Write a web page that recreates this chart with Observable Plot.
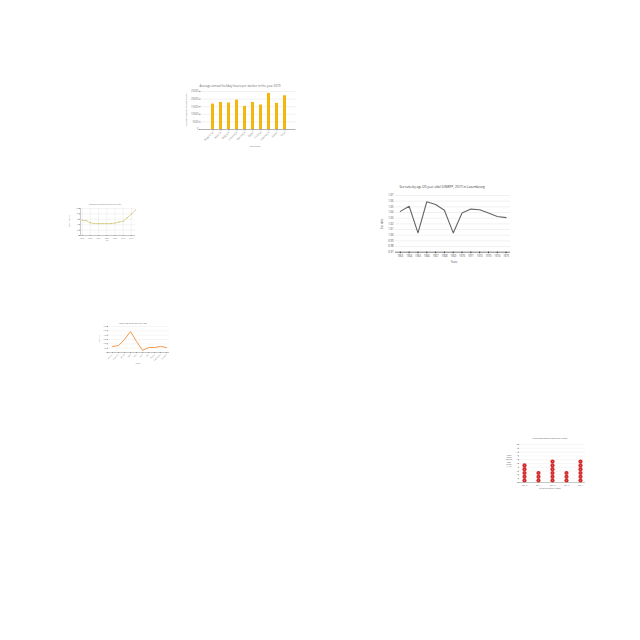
<!DOCTYPE html>
<html><head><meta charset="utf-8">
<script src="https://cdn.jsdelivr.net/npm/d3@7"></script>
<script src="https://cdn.jsdelivr.net/npm/@observablehq/plot@0.6"></script>
<style>
body{margin:0;background:#fff;}
#root{position:relative;width:640px;height:640px;overflow:hidden;font-family:"Open Sans",sans-serif;background:#fff;}
.chart{position:absolute;}
.lbl{position:absolute;white-space:nowrap;line-height:1;}
</style></head><body><div id="root"></div>
<script>
// ---- Chart A: bar chart ----
const countries = ["Argentina","Austria","Belgium","Colombia","Denmark","Egypt","Finland","Indonesia","Japan","Peru"];
const holidayHours = [16700, 17800, 17400, 19300, 15200, 17800, 16100, 23700, 17200, 22200];
const holidayTicks = [0, 5000, 10000, 15000, 20000, 25000];
// ---- Chart B: small dashed line ----
const bX = [1,2,3,4,5,6,7,8,9,10,11,12,13,14];
const bY = [57,55,47,44,44,44,44,44,46,50,53,66,80,94];
const bTicks = [1,3,5,7,9,11,13];
const bTickLabels = ["2000","2002","2004","2006","2008","2010","2012"];
// ---- Chart C: orange line ----
const months = ["January","February","March","April","May","June","July","August","September","October"];
const cValues = [140, 160, 300, 485, 255, 50, 115, 115, 140, 115];
const cTicks = [0,100,200,300,400,500,600];
// ---- Chart D: sex ratio ----
const years = [1963,1964,1965,1966,1967,1968,1969,1970,1971,1972,1973,1974,1975];
const sexRatio = [1.042,1.051,1.004,1.059,1.054,1.044,1.004,1.039,1.046,1.045,1.039,1.033,1.031];
const dTicks = [0.97,0.98,0.99,1.00,1.01,1.02,1.03,1.04,1.05,1.06,1.07];
// ---- Chart E: dot columns ----
const surveyDays = ["Sep 10","Sep 11","Sep 12","Sep 13","Sep 14"];
const surveyCounts = [5, 3, 6, 3, 6];
const eTicks = [0,1,2,3,4,5,6,7,8,9,10];

const root = document.getElementById("root");
function place(svg, left, top){ svg.classList.add("chart"); svg.style.left = left+"px"; svg.style.top = top+"px"; root.appendChild(svg); }
function label(text, x, y, size, color, rotate, align){
  const d = document.createElement("div");
  d.className = "lbl"; d.textContent = text;
  d.style.fontSize = size+"px"; d.style.color = color || "#555";
  d.style.left = x+"px"; d.style.top = y+"px";
  d.style.transform = "translate(-50%,-50%)" + (rotate ? " rotate("+rotate+"deg)" : "");
  if (align) d.style.textAlign = align;
  root.appendChild(d); return d;
}

// Chart A
const aData = countries.map((c,i)=>({c, v: holidayHours[i]}));
place(Plot.plot({
  width:135, height:75, marginLeft:30.5, marginRight:9.5, marginTop:11, marginBottom:26,
  style:{fontSize:"2.6px", fontFamily:"Open Sans", color:"#777", background:"transparent"},
  x:{domain:countries, padding:0.68, label:null},
  y:{domain:[0,25000], label:null},
  marks:[
    Plot.gridY(holidayTicks,{stroke:"#ddd", strokeOpacity:1, strokeWidth:0.4}),
    Plot.barY(aData,{x:"c", y:"v", fill:"#f5b50a"}),
    Plot.axisY(holidayTicks,{tickSize:1.5, tickPadding:1, label:null, stroke:"#999", tickFormat:d=>String(d)}),
    Plot.axisX({tickRotate:-45, tickSize:1.5, tickPadding:1, label:null, stroke:"#999"}),
    Plot.ruleY([0],{stroke:"#888", strokeWidth:0.6}),
    Plot.ruleX([0],{frameAnchor:"left", stroke:"#888", strokeWidth:0.6})
  ]
}), 170, 80);
label("Average annual holiday hours per worker in the year 2079", 240, 85.5, 3, "#666");
label("Average annual holiday hours", 186, 110, 2.4, "#777", -90);
label("Countries", 255, 146, 2.4, "#777");

// Chart B
const bData = bX.map((x,i)=>({x, y: bY[i]}));
place(Plot.plot({
  width:85, height:45, marginLeft:20, marginRight:10, marginTop:8, marginBottom:10,
  style:{fontSize:"1.8px", fontFamily:"Open Sans", color:"#888", background:"transparent"},
  x:{domain:[0.6,14], label:null},
  y:{domain:[0,100], label:null},
  marks:[
    Plot.gridX(bTicks,{stroke:"#e3e3e3", strokeOpacity:1, strokeWidth:0.4}),
    Plot.gridY([0,20,40,60,80,100],{stroke:"#e3e3e3", strokeOpacity:1, strokeWidth:0.4}),
    Plot.line(bData,{x:"x", y:"y", stroke:"#c9bd52", strokeWidth:0.7, strokeDasharray:"1.4,1"}),
    Plot.dot(bData,{x:"x", y:"y", r:0.45, fill:"#b5a63a"}),
    Plot.axisY([0,20,40,60,80,100],{tickSize:1, tickPadding:0.8, label:null, stroke:"#999"}),
    Plot.axisX(bTicks,{tickSize:1, tickPadding:0.8, label:null, stroke:"#999", tickFormat:(d)=>bTickLabels[bTicks.indexOf(d)]}),
    Plot.ruleY([0],{stroke:"#999", strokeWidth:0.5}),
    Plot.ruleX([0.6],{stroke:"#999", strokeWidth:0.5})
  ]
}), 60, 200);
label("Something measured over the years", 105, 205, 1.9, "#777");
label("Value measured", 70, 221, 1.6, "#888", -90);
label("Year", 107, 240.5, 1.6, "#888");

// Chart C
const cData = months.map((m,i)=>({m, v: cValues[i]}));
place(Plot.plot({
  width:90, height:55, marginLeft:18, marginRight:11, marginTop:6, marginBottom:23,
  style:{fontSize:"1.8px", fontFamily:"Open Sans", color:"#888", background:"transparent"},
  x:{type:"point", domain:months, padding:0.5, label:null},
  y:{domain:[0,600], label:null},
  marks:[
    Plot.gridY(cTicks,{stroke:"#e6e6e6", strokeOpacity:1, strokeWidth:0.4}),
    Plot.line(cData,{x:"m", y:"v", stroke:"#f39a4c", strokeWidth:1}),
    Plot.axisY(cTicks,{tickSize:1, tickPadding:0.8, label:null, stroke:"#999"}),
    Plot.axisX({tickRotate:-45, tickSize:1, tickPadding:0.8, label:null, stroke:"#999"}),
    Plot.ruleY([0],{stroke:"#999", strokeWidth:0.5}),
    Plot.ruleX([0],{frameAnchor:"left", stroke:"#999", strokeWidth:0.5})
  ]
}), 90, 320);
label("Labor rate during the year 1985", 133, 324, 1.9, "#666");
label("Labor rate", 100, 339, 1.7, "#888", -90);
label("Month", 138, 364, 1.7, "#888");

// Chart D
const dData = years.map((y,i)=>({y, r: sexRatio[i]}));
place(Plot.plot({
  width:150, height:75, marginLeft:25, marginRight:10, marginTop:5, marginBottom:13.3,
  style:{fontSize:"2.6px", fontFamily:"Open Sans", color:"#444", background:"transparent"},
  x:{domain:[1962.45,1975.5], label:null},
  y:{domain:[0.97,1.07], label:null},
  marks:[
    Plot.gridY(dTicks,{stroke:"#e2e2e2", strokeOpacity:1, strokeWidth:0.5}),
    Plot.line(dData,{x:"y", y:"r", stroke:"#666", strokeWidth:1.1}),
    Plot.axisY(dTicks,{tickSize:0, tickPadding:2, label:null, tickFormat:d=>d.toFixed(2)}),
    Plot.axisX(years,{tickSize:1.5, tickPadding:1, label:null, stroke:"#333", tickFormat:d=>String(d)}),
    Plot.ruleY([0.97],{stroke:"#333", strokeWidth:0.6})
  ]
}), 370, 190);
label("Sex ratio by age (20 year olds) (UNWPP, 2017) in Luxembourg", 442, 187, 3, "#333");
label("Sex ratio", 382, 224, 2.6, "#444", -90);
label("Years", 454, 262, 2.6, "#444");

// Chart E
const eData = [];
surveyDays.forEach((d,i)=>{ for(let k=1;k<=surveyCounts[i];k++) eData.push({d, k: k-0.5}); });
place(Plot.plot({
  width:90, height:52, marginLeft:19, marginRight:5, marginTop:4, marginBottom:10,
  style:{fontSize:"1.7px", fontFamily:"Open Sans", color:"#666", background:"transparent"},
  x:{domain:surveyDays, label:null, padding:0.2},
  y:{domain:[0,10], label:null},
  marks:[
    Plot.gridY(eTicks,{stroke:"#e8e8e8", strokeOpacity:1, strokeWidth:0.4}),
    Plot.dot(eData,{x:"d", y:"k", r:2.1, fill:"#d42a2a"}),
    Plot.dot(eData,{x:"d", y:"k", r:0.35, fill:"#f4d0d0"}),
    Plot.axisY(eTicks,{tickSize:1, tickPadding:0.8, label:null, stroke:"#999"}),
    Plot.axisX({tickSize:1, tickPadding:0.8, label:null, stroke:"#999"}),
    Plot.ruleY([0],{stroke:"#999", strokeWidth:0.5}),
    Plot.ruleX([0],{frameAnchor:"left", stroke:"#999", strokeWidth:0.5})
  ]
}), 500, 440);
label("Mean Speed Ranking from Survey in 2022", 550, 439, 1.8, "#555");
const ey = label("Mean\nSpeed\nRanking\nfrom\nSurvey\n(1-10)", 509, 462, 1.8, "#555", 0, "center");
ey.style.whiteSpace = "pre"; ey.style.lineHeight = "1.25";
label("Day of the Survey in 2022", 550, 489, 1.8, "#555");
</script></body></html>
